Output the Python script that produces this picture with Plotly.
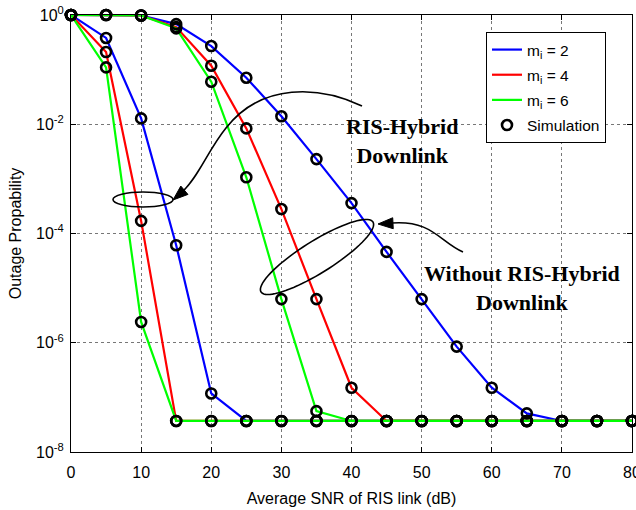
import numpy as np
import plotly.graph_objects as go

# ---------------- data ----------------
snr_db = [0, 5, 10, 15, 20, 25, 30, 35, 40, 45, 50, 55, 60, 65, 70, 75, 80]
floor = 3.7e-8

hybrid_m2 = [1, 0.38, 0.0128, 6.1e-5, 1.18e-7, floor, floor, floor, floor, floor, floor, floor, floor, floor, floor, floor, floor]
hybrid_m4 = [1, 0.21, 1.7e-4, floor, floor, floor, floor, floor, floor, floor, floor, floor, floor, floor, floor, floor, floor]
hybrid_m6 = [1, 0.11, 2.4e-6, floor, floor, floor, floor, floor, floor, floor, floor, floor, floor, floor, floor, floor, floor]

without_m2 = [1, 1, 0.98, 0.68, 0.27, 0.071, 0.014, 2.3e-3, 3.6e-4, 4.6e-5, 6.3e-6, 8.5e-7, 1.5e-7, 5.1e-8, floor, floor, floor]
without_m4 = [1, 1, 0.98, 0.60, 0.118, 0.0084, 2.8e-4, 6.3e-6, 1.5e-7, floor, floor, floor, floor, floor, floor, floor, floor]
without_m6 = [1, 1, 0.98, 0.57, 0.06, 0.00107, 6.3e-6, 5.6e-8, floor, floor, floor, floor, floor, floor, floor, floor, floor]

series_names = ["m<sub>i</sub> = 2", "m<sub>i</sub> = 4", "m<sub>i</sub> = 6"]
series_colors = ["#0000FF", "#FF0000", "#00FF00"]
x_ticks = [0, 10, 20, 30, 40, 50, 60, 70, 80]
y_tickvals = [1, 1e-2, 1e-4, 1e-6, 1e-8]
y_ticktext = ["10<sup>0</sup>", "10<sup>-2</sup>", "10<sup>-4</sup>", "10<sup>-6</sup>", "10<sup>-8</sup>"]

# ---------------- geometry ----------------
W, H = 636, 510
# plot area on screen: x 71..632, y 15..452
ML, MT = 71, 15
MR = W - 632
MB = H - 452
PW, PH = 632 - 71, 452 - 15


def px(xs, ys):
    """screen pixel -> paper coords (for decorative shapes)"""
    return (xs - 71) / PW, (452 - ys) / PH


fig = go.Figure()

hyb = [hybrid_m2, hybrid_m4, hybrid_m6]
wo = [without_m2, without_m4, without_m6]
for i in range(3):
    for j, data in enumerate([hyb[i], wo[i]]):
        fig.add_trace(go.Scatter(
            x=snr_db, y=data, mode="lines",
            line=dict(color=series_colors[i], width=2.2),
            name=series_names[i], legendgroup=f"g{i}",
            showlegend=(j == 0), cliponaxis=False,
        ))

for i in range(3):
    for j, data in enumerate([hyb[i], wo[i]]):
        fig.add_trace(go.Scatter(
            x=snr_db, y=data, mode="markers",
            marker=dict(symbol="circle-open", size=10, color="black",
                        line=dict(width=2.6, color="black")),
            name="Simulation", legendgroup="sim",
            showlegend=(i == 0 and j == 0), cliponaxis=False,
        ))

# ---------------- decorations ----------------
shapes = []


def to_path(points):
    s = ""
    for k, (a, b) in enumerate(points):
        xp, yp = px(a, b)
        s += ("M" if k == 0 else "L") + f"{xp:.5f},{yp:.5f} "
    return s


def bez(cmds):
    s = ""
    for c, pts in cmds:
        s += c
        s += " ".join("{:.5f},{:.5f}".format(*px(a, b)) for a, b in pts) + " "
    return s


# left ellipse
x0, y0 = px(113, 207)
x1, y1 = px(173, 192)
shapes.append(dict(type="circle", xref="paper", yref="paper", x0=x0, y0=y0, x1=x1, y1=y1,
                   line=dict(color="black", width=1.6)))

# right rotated ellipse
t = np.linspace(0, 2 * np.pi, 80)
cx, cy, a_, b_, ang = 317, 257, 66, 16, np.deg2rad(-32)
ex = cx + a_ * np.cos(t) * np.cos(ang) - b_ * np.sin(t) * np.sin(ang)
ey = cy + a_ * np.cos(t) * np.sin(ang) + b_ * np.sin(t) * np.cos(ang)
shapes.append(dict(type="path", xref="paper", yref="paper",
                   path=to_path(list(zip(ex, ey))) + "Z",
                   line=dict(color="black", width=1.6)))

# curved arrow 1 (RIS-Hybrid)
shapes.append(dict(type="path", xref="paper", yref="paper",
                   path=bez([("M", [(362, 106)]),
                             ("C", [(320, 86), (262, 82), (226, 128)]),
                             ("C", [(208, 150), (198, 178), (182, 192)])]),
                   line=dict(color="black", width=1.6)))
tip = np.array([173.0, 200.0])
d = np.array([-14.0, 12.0]); d /= np.linalg.norm(d)
n = np.array([-d[1], d[0]])
base = tip - d * 15
shapes.append(dict(type="path", xref="paper", yref="paper",
                   path=to_path([tip, base + n * 5.5, base - n * 5.5]) + "Z",
                   fillcolor="black", line=dict(color="black", width=1)))

# curved arrow 2 (Without RIS-Hybrid)
shapes.append(dict(type="path", xref="paper", yref="paper",
                   path=bez([("M", [(463, 252)]),
                             ("C", [(440, 242), (432, 220), (392, 223)])]),
                   line=dict(color="black", width=1.6)))
tip = np.array([378.0, 224.0])
d = np.array([-20.0, 1.0]); d /= np.linalg.norm(d)
n = np.array([-d[1], d[0]])
base = tip - d * 15
shapes.append(dict(type="path", xref="paper", yref="paper",
                   path=to_path([tip, base + n * 5.5, base - n * 5.5]) + "Z",
                   fillcolor="black", line=dict(color="black", width=1)))

annotations = []
ax_, ay_ = px(402, 141)
annotations.append(dict(xref="paper", yref="paper", x=ax_, y=ay_, showarrow=False,
                        xanchor="center", yanchor="middle",
                        text="<b>RIS-Hybrid<br>Downlink</b>",
                        font=dict(family="Liberation Serif", size=22, color="black"),
                        align="center"))
ax_, ay_ = px(522, 288)
annotations.append(dict(xref="paper", yref="paper", x=ax_, y=ay_, showarrow=False,
                        xanchor="center", yanchor="middle",
                        text="<b>Without RIS-Hybrid<br>Downlink</b>",
                        font=dict(family="Liberation Serif", size=22, color="black"),
                        align="center"))

lx, ly = px(486, 32)

fig.update_layout(
    width=W, height=H,
    margin=dict(l=ML, r=MR, t=MT, b=MB, autoexpand=False),
    paper_bgcolor="white", plot_bgcolor="white",
    font=dict(family="Liberation Sans, Arial", size=15, color="black"),
    showlegend=True,
    legend=dict(x=lx, y=ly, xanchor="left", yanchor="top",
                bordercolor="black", borderwidth=1, bgcolor="white",
                font=dict(size=15.5), tracegroupgap=2, traceorder="grouped"),
    shapes=shapes,
    annotations=annotations,
    xaxis=dict(range=[0, 80], tickvals=x_ticks, showgrid=True,
               gridcolor="#777777", griddash="dot", gridwidth=1,
               showline=True, linecolor="black", linewidth=1, mirror="ticks",
               ticks="inside", ticklen=5, tickcolor="black", zeroline=False,
               tickfont=dict(size=16), ticklabelstandoff=6, ticklabeloverflow="allow",
               title=dict(text="Average SNR of RIS link (dB)", font=dict(size=16), standoff=12)),
    yaxis=dict(type="log", range=[-8, 0], tickvals=y_tickvals, ticktext=y_ticktext,
               showgrid=True, gridcolor="#777777", griddash="dot", gridwidth=1,
               showline=True, linecolor="black", linewidth=1, mirror="ticks",
               ticks="inside", ticklen=5, tickcolor="black", zeroline=False,
               tickfont=dict(size=16), ticklabelstandoff=3, ticklabeloverflow="allow",
               title=dict(text="Outage Propability", font=dict(size=16), standoff=10)),
)

fig.write_html("out.html", config={"displayModeBar": False},
               post_script="document.body.style.margin='0px';")
